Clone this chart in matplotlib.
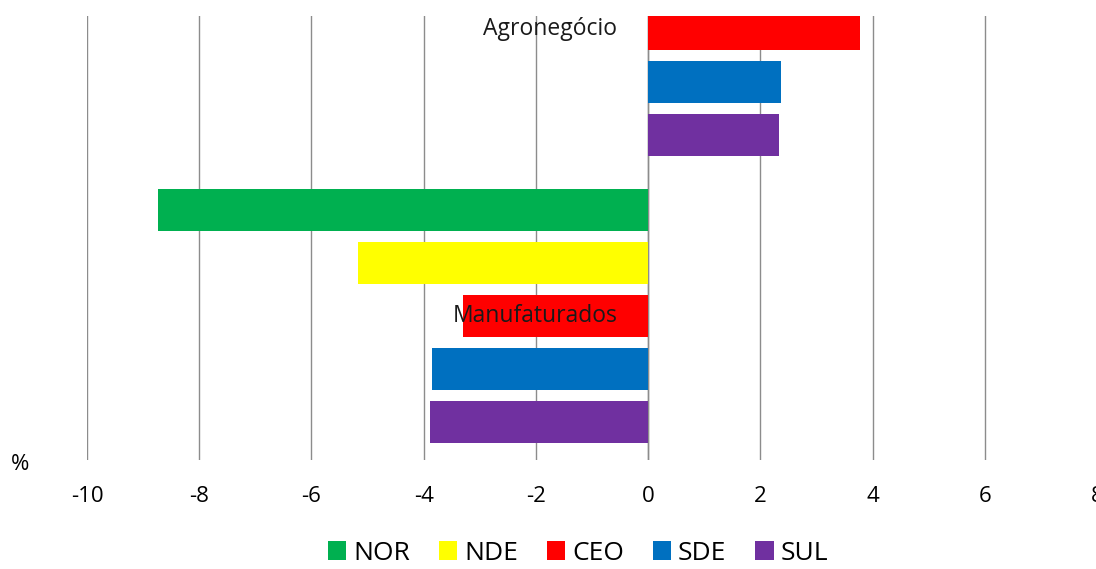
import numpy as np
import matplotlib.pyplot as plt

plt.rcParams['font.family'] = ['Open Sans', 'DejaVu Sans']
plt.rcParams['axes.unicode_minus'] = False

groups = ['Agronegócio', 'Manufaturados']
series = ['NOR', 'NDE', 'CEO', 'SDE', 'SUL']
colors = ['#00B050', '#FFFF00', '#FF0000', '#0070C0', '#7030A0']

# Agronegócio NOR/NDE fall outside the visible area of the original
agro = [np.nan, np.nan, 3.78, 2.37, 2.34]
manuf = [-8.73, -5.17, -3.30, -3.85, -3.89]
values = [agro, manuf]

group_step = 5.42
bar_h = 0.79

fig = plt.figure(figsize=(10.96, 5.69), dpi=100)
ax = fig.add_axes([87 / 1096, 1 - 460 / 569, 1010 / 1096, 444 / 569])

for i, s in enumerate(series):
    ys = [g * group_step + i for g in range(len(groups))]
    xs = [values[g][i] for g in range(len(groups))]
    ax.barh(ys, xs, height=bar_h, color=colors[i], label=s, zorder=3)

for g, name in enumerate(groups):
    ax.text(-0.55, g * group_step + 2, name, ha='right', va='center',
            fontsize=16.5, color='#1a1a1a', zorder=4)

ax.set_xlim(-10, 8)
ax.set_ylim(10.14, 1.76)
ax.set_xticks(range(-10, 9, 2))
ax.set_yticks([])
ax.grid(axis='x', color='#8c8c8c', linewidth=1, zorder=0)
ax.axvline(0, color='#8c8c8c', linewidth=1, zorder=2)
for sp in ax.spines.values():
    sp.set_visible(False)
ax.tick_params(axis='x', length=0, pad=19, labelsize=16)

fig.text(20 / 1096, 1 - 465 / 569, '%', ha='center', va='center', fontsize=16)

fig.legend(loc='center', bbox_to_anchor=(578 / 1096, 1 - 553 / 569), ncol=5,
           frameon=False, fontsize=19, handlelength=0.7, handleheight=0.7,
           handletextpad=0.25, columnspacing=1.1, borderaxespad=0)

fig.savefig('out.png', dpi=100)
